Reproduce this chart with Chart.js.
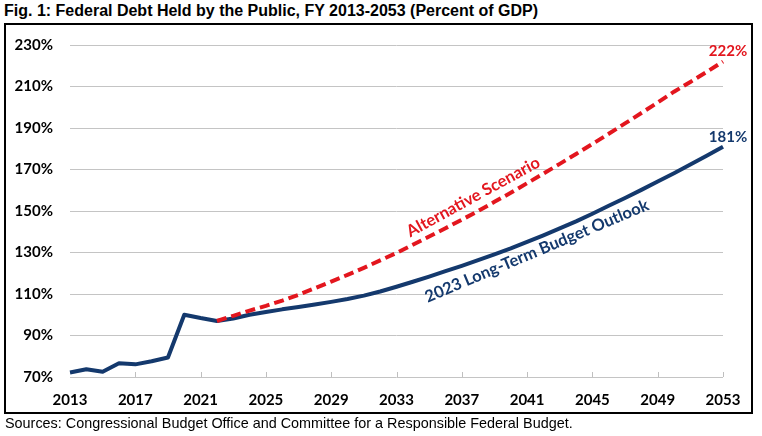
<!DOCTYPE html>
<html><head><meta charset="utf-8">
<script src="https://cdn.jsdelivr.net/npm/chart.js@4"></script>
<style>
html,body{margin:0;padding:0;background:#fff;width:762px;height:436px;overflow:hidden;}
#title{position:absolute;left:4px;top:2px;font:bold 16px "Liberation Sans",Arial,sans-serif;color:#000;white-space:nowrap;}
#frame{position:absolute;left:4px;top:23px;width:749px;height:391px;box-sizing:border-box;border:2px solid #000;pointer-events:none;}
#src{position:absolute;left:5px;top:415px;font:14.4px "Liberation Sans",Arial,sans-serif;color:#000;white-space:nowrap;}
canvas{position:absolute;left:0;top:0;}
</style></head><body>
<div id="title">Fig. 1: Federal Debt Held by the Public, FY 2013-2053 (Percent of GDP)</div>
<div id="frame"></div>
<canvas id="c" width="762" height="436" style="width:762px;height:436px"></canvas>
<div id="src">Sources: Congressional Budget Office and Committee for a Responsible Federal Budget.</div>
<script>
const years = [2013,2014,2015,2016,2017,2018,2019,2020,2021,2022,2023,2024,2025,2026,2027,2028,2029,2030,2031,2032,2033,2034,2035,2036,2037,2038,2039,2040,2041,2042,2043,2044,2045,2046,2047,2048,2049,2050,2051,2052,2053];
const baselineDebt = [72.2,73.7,72.5,76.6,76.1,77.6,79.4,100.0,98.4,97.0,
  98.2,100.0,101.3,102.6,103.7,104.9,106.2,107.6,109.2,111.2,113.5,115.9,118.4,121.0,123.6,126.3,129.1,132.0,135.1,138.3,141.6,145.0,148.7,152.5,156.3,160.2,164.2,168.2,172.4,176.6,181.0];
const alternativeDebt = [null,null,null,null,null,null,null,null,null,97.0,
  99.5,102.0,104.3,106.8,109.6,112.8,116.0,119.2,122.6,126.2,129.8,133.7,137.7,141.7,145.8,150.0,154.4,158.8,163.4,168.0,172.7,177.5,182.3,187.2,192.2,197.2,202.3,207.5,212.2,217.0,222.0];
const yTicks = [70,90,110,130,150,170,190,210,230];
const xLabelYears = [2013,2017,2021,2025,2029,2033,2037,2041,2045,2049,2053];

const BLUE = '#14396D', RED = '#E3161E';
const lineLabels = [
  {text:'Alternative Scenario', year:2037.7, value:156.7, angle:-28.6, color:RED, size:16.5},
  {text:'2023 Long-Term Budget Outlook', year:2041.6, value:130.7, angle:-22.8, color:BLUE, size:16.5}
];

const annot = {
  id:'annot',
  beforeDatasetsDraw(chart){
    const ctx=chart.ctx, x=chart.scales.x, a=chart.chartArea;
    ctx.save(); ctx.strokeStyle='#BFBFBF'; ctx.lineWidth=1;
    xLabelYears.forEach(yr=>{ if(yr===years[0]) return;
      const px=Math.round(x.getPixelForValue(years.indexOf(yr)))+0.5;
      ctx.beginPath(); ctx.moveTo(px,a.bottom); ctx.lineTo(px,a.bottom-5); ctx.stroke();});
    ctx.restore();
  },
  afterDatasetsDraw(chart){
    const ctx=chart.ctx, x=chart.scales.x, y=chart.scales.y;
    ctx.save();
    lineLabels.forEach(l=>{
      const px=x.getPixelForValue(l.year-years[0]), py=y.getPixelForValue(l.value);
      ctx.save(); ctx.translate(px,py); ctx.rotate(l.angle*Math.PI/180);
      ctx.font='bold '+l.size+'px Lato'; ctx.fillStyle=l.color; ctx.textAlign='center'; ctx.textBaseline='middle';
      ctx.fillText(l.text,0,0); ctx.restore();
    });
    const last=years.length-1;
    [[alternativeDebt,RED],[baselineDebt,BLUE]].forEach(([d,c])=>{
      const px=x.getPixelForValue(last), py=y.getPixelForValue(d[last]);
      ctx.font='bold 15px Lato'; ctx.fillStyle=c; ctx.textAlign='center'; ctx.textBaseline='middle';
      ctx.fillText(Math.round(d[last])+'%',px+5,py-10);
    });
    ctx.restore();
  }
};

new Chart(document.getElementById('c'),{
  type:'line',
  data:{labels:years,datasets:[
    {label:'Alternative Scenario',data:alternativeDebt,borderColor:RED,borderWidth:4,borderDash:[10,5],pointRadius:0,tension:0,fill:false},
    {label:'2023 Long-Term Budget Outlook',data:baselineDebt,borderColor:BLUE,borderWidth:4,pointRadius:0,tension:0,fill:false,borderJoinStyle:'round'}
  ]},
  options:{
    responsive:false,animation:false,devicePixelRatio:1,
    layout:{padding:{left:0,right:39,top:45,bottom:0}},
    plugins:{legend:{display:false},tooltip:{enabled:false},title:{display:false}},
    scales:{
      x:{type:'category',offset:false,grid:{display:false,drawTicks:false},border:{display:false},
        ticks:{autoSkip:false,maxRotation:0,padding:14,color:'#000',font:{family:'Lato',weight:'bold',size:15},
          callback:function(v,i){const yr=years[i];return xLabelYears.includes(yr)?String(yr):'';}},
        afterFit(s){s.height=59;}},
      y:{min:70,max:230,afterBuildTicks(s){s.ticks=yTicks.map(v=>({value:v}));},
        grid:{color:'#C4C4C4',lineWidth:1,drawTicks:false},border:{display:false},
        ticks:{padding:17,color:'#000',font:{family:'Lato',weight:'bold',size:15},callback:v=>v+'%'},
        afterFit(s){s.width=70;}}
    }
  },
  plugins:[annot]
});
</script>
</body></html>
